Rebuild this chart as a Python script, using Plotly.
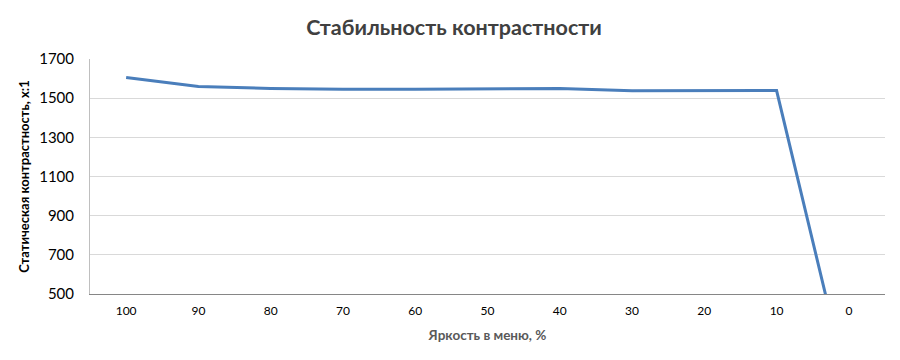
import plotly.graph_objects as go

brightness = ["100", "90", "80", "70", "60", "50", "40", "30", "20", "10", "0"]
contrast = [1605, 1559, 1550, 1545, 1545, 1548, 1549, 1538, 1538, 1539, 0]

# page has an 8px body margin; compensate so the figure fills the 900x360 window
OFF = 8
W, H = 900 - OFF, 360 - OFF
L, R, T, B = 90 - OFF, 15, 59 - OFF, 66

fig = go.Figure()
fig.add_trace(go.Scatter(x=brightness, y=contrast, mode="lines",
                         line=dict(color="#4a7ebb", width=3), showlegend=False))

font = "Lato, 'Open Sans', sans-serif"
fig.update_layout(
    width=W, height=H,
    margin=dict(l=L, r=R, t=T, b=B, autoexpand=False),
    paper_bgcolor="white", plot_bgcolor="white",
    title=dict(text="<b>Стабильность контрастности</b>", x=0.5, xanchor="center",
               y=1 - (27 - OFF) / H, yanchor="middle",
               font=dict(family=font, size=21.5, color="#404040")),
    font=dict(family=font),
    xaxis=dict(type="category", range=[-0.5, 10.5], automargin=False,
               showgrid=False, showline=True, linecolor="#868686",
               linewidth=1, ticks="", tickfont=dict(size=12, color="#000000"),
               ticklabelstandoff=6,
               title=dict(text="<b>Яркость в меню, %</b>", standoff=13,
                          font=dict(size=13.5, color="#595959"))),
    yaxis=dict(range=[500, 1700], automargin=False, showgrid=True,
               gridcolor="#d9d9d9", showline=True, linecolor="#bfbfbf",
               zeroline=False, ticks="", tickfont=dict(size=15, color="#000000"),
               ticklabelstandoff=12,
               tickvals=[500, 700, 900, 1100, 1300, 1500, 1700],
               title=dict(text="<b>Статическая контрастность, x:1</b>", standoff=6,
                          font=dict(size=13, color="#000000"))),
)
fig.write_html("out.html")
